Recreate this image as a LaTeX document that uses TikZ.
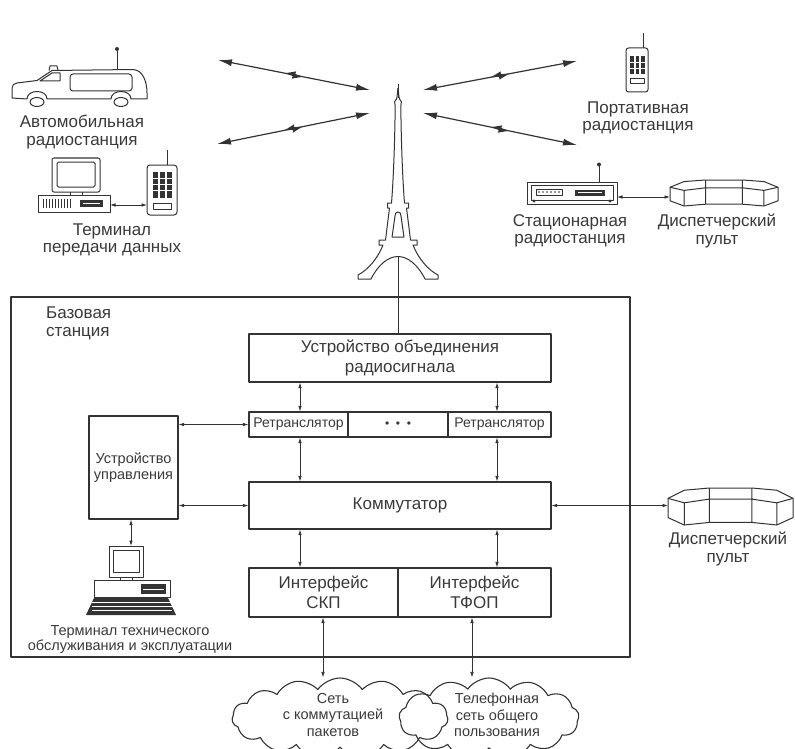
\documentclass[tikz,border=0pt]{standalone}
\usepackage{fontspec}
\setmainfont{Liberation Sans}
\usetikzlibrary{arrows.meta,shapes.symbols,decorations.markings,calc}
\definecolor{ink}{HTML}{333333}
\definecolor{txt}{HTML}{3A3A3A}

% one half of the lattice tower, drawn around x = 0
\newcommand\TowerHalf{%
  \draw[ink, line width=1pt] (0,88) -- (1,97) -- (1.5,99)
    .. controls (3.8,100) and (3.8,103) .. (2.8,106)
    .. controls (3.3,150) and (5,185) .. (6.5,203) -- (10.5,203) -- (10.5,208) -- (8.5,208)
    -- (12.5,240) -- (19,240) -- (19,245) -- (15,245)
    .. controls (20,258) and (30,270) .. (40,275) -- (40,279) -- (27,279)
    .. controls (20,265) and (10,256.5) .. (0,256.5);
  \draw[ink, line width=1pt] (0,212) .. controls (2,212) and (3,213.5) .. (3,216)
    -- (6,237) -- (0,237);
}

\tikzset{
  pics/console/.style={code={
    \draw[ink, line width=1pt, fill=white]
      (0,0.28) -- (0.13,0.06) -- (0.33,0) -- (0.67,0) -- (0.87,0.06) -- (1,0.28)
      -- (1,0.8) -- (0.87,1) -- (0.67,0.93) -- (0.33,0.93) -- (0.13,1) -- (0,0.8) -- cycle;
    \draw[ink, line width=1pt]
      (0,0.28) -- (0.13,0.4) -- (0.33,0.3) -- (0.67,0.3) -- (0.87,0.4) -- (1,0.28)
      (0.13,0.4) -- (0.13,1) (0.33,0) -- (0.33,0.93) (0.67,0) -- (0.67,0.93)
      (0.87,0.4) -- (0.87,1);
  }}
}

\begin{document}
\begin{tikzpicture}[x=1pt, y=-1pt, line join=round,
  box/.style={draw=ink, line width=1.25pt, fill=white, inner sep=0pt, align=center,
    text=txt, font=\fontsize{17}{20}\selectfont},
  lbl/.style={inner sep=0pt, align=center, text=txt, font=\fontsize{17}{17.5}\selectfont},
  small/.style={font=\fontsize{14.5}{16.5}\selectfont},
  link/.style={draw=ink, line width=0.75pt,
    {Latex[length=5.5pt,width=3.6pt]}-{Latex[length=5.5pt,width=3.6pt]}},
  radio/.style={draw=ink, line width=1.2pt,
    {Latex[length=14pt,width=7pt]}-{Latex[length=14pt,width=7pt]},
    postaction={decorate},
    decoration={markings, mark=at position 0.5 with {
      \fill[ink] (-9pt,0pt) -- (1.5pt,4pt) -- (1pt,1.2pt) -- (9pt,0pt)
        -- (-1.5pt,-4pt) -- (-1pt,-1.2pt) -- cycle;}}},
  dev/.style={draw=ink, line width=1pt},
]
\useasboundingbox (0,0) rectangle (795,749);
\fill[white] (0,0) rectangle (795,749);

% ---------- base station frame ----------
\node[draw=ink, line width=1.25pt, minimum width=619pt, minimum height=360pt, inner sep=0pt]
  (base) at (320.5,477) {};
\node[lbl, align=left, anchor=north west] (baselbl) at (46,307) {Базовая\\станция};

% ---------- blocks ----------
\node[box, minimum width=302pt, minimum height=48pt] (comb) at (400,358)
  {Устройство объединения\\радиосигнала};
\node[box, font=\fontsize{14}{16}\selectfont, minimum width=99pt, minimum height=25pt]
  (rep1) at (298.5,424.5) {Ретранслятор};
\node[box, font=\fontsize{12}{14}\selectfont, minimum width=100pt, minimum height=25pt]
  (dots) at (398,424.5) {•\ \ •\ \ •};
\node[box, font=\fontsize{14}{16}\selectfont, minimum width=103pt, minimum height=25pt]
  (rep2) at (499.5,424.5) {Ретранслятор};
\node[box, minimum width=302pt, minimum height=47pt] (comm) at (400,505.5) {Коммутатор};
\node[box, minimum width=149pt, minimum height=49pt] (skp) at (323.5,592.5) {Интерфейс\\СКП};
\node[box, minimum width=153pt, minimum height=49pt] (tfop) at (474.5,592.5) {Интерфейс\\ТФОП};
\node[box, small, minimum width=89pt, minimum height=103pt] (ctrl) at (133.5,467.5)
  {Устройство\\управления};

% ---------- tower ----------
\begin{scope}[shift={(398,0)}]
  \TowerHalf
  \begin{scope}[xscale=-1]\TowerHalf\end{scope}
  \draw[ink, line width=1pt] (0,84) -- (0,98);
\end{scope}
\coordinate (towerfoot) at (398,256.5);
\draw[ink, line width=1pt] (towerfoot) -- (comb.north -| towerfoot);

% ---------- links inside the station ----------
\coordinate (xa) at (300,0);
\coordinate (xb) at (497,0);
\coordinate (xc) at (323,0);
\coordinate (xd) at (472,0);
\draw[link] (comb.south -| xa) -- (rep1.north -| xa);
\draw[link] (comb.south -| xb) -- (rep2.north -| xb);
\draw[link] (rep1.south -| xa) -- (comm.north -| xa);
\draw[link] (rep2.south -| xb) -- (comm.north -| xb);
\draw[link] (comm.south -| xa) -- (skp.north -| xa);
\draw[link] (comm.south -| xb) -- (tfop.north -| xb);
\draw[link] (ctrl.east |- rep1) -- (rep1.west);
\draw[link] (ctrl.east |- comm) -- (comm.west);

% ---------- maintenance terminal ----------
\coordinate (mtop) at (131,546);
\draw[dev, fill=white] (109,546) rectangle (143,577);
\draw[dev] (113,550) rectangle (139,572);
\draw[dev, fill=white] (120,577) rectangle (132,580);
\draw[dev, fill=white] (94,580) rectangle (170,597);
\fill[ink] (141,584) rectangle (166,594);
\draw[white, line width=0.6pt] (143,589) -- (164,589);
\fill[ink] (94,598) -- (168,598) -- (176,615) -- (86,615) -- cycle;
\foreach \yy in {602,606,610} \draw[white, line width=0.5pt] (92,\yy) -- (172,\yy);
\draw[link] (ctrl.south -| mtop) -- (mtop);
\node[lbl, small, font=\fontsize{14.5}{15}\selectfont] (mtlbl) at (130,640)
  {Терминал технического\\обслуживания и эксплуатации};

% ---------- dispatcher console at the switch ----------
\pic[xscale=125, yscale=37] (cons2) at (668,488) {console};
\coordinate (cons2w) at (668,0);
\draw[link] (comm.east) -- (comm.east -| cons2w);
\node[lbl] (cons2lbl) at (728,549) {Диспетчерский\\пульт};

% ---------- networks ----------
\node[cloud, draw=ink, line width=1.1pt, cloud puffs=13, cloud puff arc=110, aspect=2.4,
  minimum width=180pt, minimum height=80pt, inner sep=0pt] (cl2) at (489,718) {};
\node[cloud, draw=ink, line width=1.1pt, cloud puffs=15, cloud puff arc=110, aspect=2.8,
  minimum width=216pt, minimum height=80pt, inner sep=0pt] (cl1) at (340,718) {};
\node[lbl, small] (cl1txt) at (333,715) {Сеть\\с коммутацией\\пакетов};
\node[lbl, small] (cl2txt) at (497,715) {Телефонная\\сеть общего\\пользования};
\draw[link] (skp.south -| xc) -- (cl1.north -| xc);
\draw[link] (tfop.south -| xd) -- (cl2.north -| xd);

% ---------- vehicle radio ----------
\draw[dev, fill=white] (12,98) -- (12,88) .. controls (12,85) and (14,83.5) .. (17,83)
  -- (37,80.5) -- (52,70.5) -- (133,69.5) .. controls (143,70) and (147,82) .. (147,93)
  -- (147,99) -- (131,99) .. controls (131,89) and (111,89) .. (111,99)
  -- (47,99) .. controls (47,89) and (27,89) .. (27,99) -- cycle;
\draw[dev, fill=white] (37,102) ellipse [x radius=7pt, y radius=4.5pt];
\draw[dev, fill=white] (121,102) ellipse [x radius=7pt, y radius=4.5pt];
\draw[dev, rounded corners=3pt] (70,74) rectangle (132,91);
\draw[dev] (40,81) -- (52,73) -- (60,73) -- (60,81) -- cycle;
\draw[dev] (49,70.5) -- (50,66) -- (57,66) -- (58,70.5);
\draw[dev] (117,69.5) -- (117,51);
\fill[ink] (117,49) circle [radius=2pt];
\node[lbl] (carlbl) at (82,132) {Автомобильная\\радиостанция};

% ---------- data terminal ----------
\draw[dev, fill=white, rounded corners=2pt] (52,158) rectangle (100,192);
\draw[dev, rounded corners=1.5pt] (57,162) rectangle (95,187);
\draw[dev] (70,192) -- (70,195) (82,192) -- (82,195);
\draw[dev, fill=white] (38,195) rectangle (110,212);
\foreach \i in {0,...,9} \draw[ink, line width=0.8pt] ({43+3*\i},199) -- ({43+3*\i},208);
\fill[ink] (80,200) rectangle (103,207);
\draw[white, line width=0.6pt] (83,203.5) -- (100,203.5);
\draw[dev, fill=white, rounded corners=3pt] (147,165) rectangle (177,215);
\draw[dev] (167,165) -- (167,150);
\foreach \c in {0,1,2} \fill[ink] ({153+\c*7},172) rectangle ({158+\c*7},198);
\foreach \r in {178,184,190} \draw[white, line width=0.6pt] (152,\r) -- (172,\r);
\draw[dev] (153,203) rectangle (171,209);
\coordinate (pcR) at (110,205);
\coordinate (hsL) at (147,205);
\draw[link] (pcR) -- (hsL);
\node[lbl] (termlbl) at (112,240) {Терминал\\передачи данных};

% ---------- portable radio ----------
\draw[dev, fill=white, rounded corners=2.5pt] (626,48) rectangle (648,92);
\draw[dev] (643,48) -- (643,33);
\foreach \c in {0,1,2} \fill[ink] ({630+\c*5.5},56) rectangle ({633.5+\c*5.5},74);
\foreach \r in {62,68} \draw[white, line width=0.6pt] (629,\r) -- (645,\r);
\draw[dev] (630,79) rectangle (644,84);
\node[lbl] (portlbl) at (638,118) {Портативная\\радиостанция};

% ---------- fixed radio ----------
\draw[dev, fill=white] (527,182) rectangle (617,204);
\draw[dev] (531,185) rectangle (613,200);
\draw[dev] (536,189) rectangle (562,195);
\foreach \i in {0,...,5} \fill[ink] ({539+4*\i},192) circle [radius=0.9pt];
\fill[ink] (575,189.5) rectangle (605,195.5);
\draw[white, line width=0.5pt] (578,192.5) -- (602,192.5);
\fill[ink] (534,201) circle [radius=1.6pt] (610,201) circle [radius=1.6pt];
\draw[dev] (599,182) -- (599,166);
\fill[ink] (599,164.5) circle [radius=2pt];
\node[lbl] (statlbl) at (570,231) {Стационарная\\радиостанция};

% ---------- dispatcher console at the fixed radio ----------
\pic[xscale=108, yscale=26] (cons1) at (670,180) {console};
\coordinate (statR) at (617,197);
\coordinate (cons1W) at (670,197);
\draw[link] (statR) -- (cons1W);
\node[lbl] (cons1lbl) at (717,231) {Диспетчерский\\пульт};

% ---------- radio links to the tower ----------
\coordinate (tA1) at (370,90);
\coordinate (tA2) at (370,113);
\coordinate (tA3) at (423,90);
\coordinate (tA4) at (423,113);
\coordinate (cA) at (218,60);
\coordinate (dA) at (217,144);
\coordinate (pA) at (577,61);
\coordinate (sA) at (577,145);
\draw[radio] (cA) -- (tA1);
\draw[radio] (dA) -- (tA2);
\draw[radio] (tA3) -- (pA);
\draw[radio] (tA4) -- (sA);
\end{tikzpicture}
\end{document}
